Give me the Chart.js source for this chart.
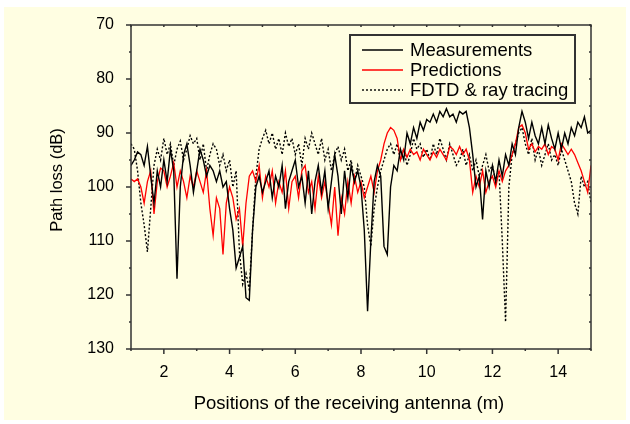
<!DOCTYPE html>
<html>
<head>
<meta charset="utf-8">
<script src="https://cdn.jsdelivr.net/npm/chart.js@4.4.0/dist/chart.umd.min.js"></script>
<style>
  html, body { margin: 0; padding: 0; background: #fff; }
  canvas { display: block; }
</style>
</head>
<body>
<canvas id="chart" width="630" height="424"></canvas>
<script>
// receiver positions (m), one sample every 10 cm
const positions = [
  1.0, 1.1, 1.2, 1.3, 1.4, 1.5, 1.6, 1.7, 1.8, 1.9,
  2.0, 2.1, 2.2, 2.3, 2.4, 2.5, 2.6, 2.7, 2.8, 2.9,
  3.0, 3.1, 3.2, 3.3, 3.4, 3.5, 3.6, 3.7, 3.8, 3.9,
  4.0, 4.1, 4.2, 4.3, 4.4, 4.5, 4.6, 4.7, 4.8, 4.9,
  5.0, 5.1, 5.2, 5.3, 5.4, 5.5, 5.6, 5.7, 5.8, 5.9,
  6.0, 6.1, 6.2, 6.3, 6.4, 6.5, 6.6, 6.7, 6.8, 6.9,
  7.0, 7.1, 7.2, 7.3, 7.4, 7.5, 7.6, 7.7, 7.8, 7.9,
  8.0, 8.1, 8.2, 8.3, 8.4, 8.5, 8.6, 8.7, 8.8, 8.9,
  9.0, 9.1, 9.2, 9.3, 9.4, 9.5, 9.6, 9.7, 9.8, 9.9,
  10.0, 10.1, 10.2, 10.3, 10.4, 10.5, 10.6, 10.7, 10.8, 10.9,
  11.0, 11.1, 11.2, 11.3, 11.4, 11.5, 11.6, 11.7, 11.8, 11.9,
  12.0, 12.1, 12.2, 12.3, 12.4, 12.5, 12.6, 12.7, 12.8, 12.9,
  13.0, 13.1, 13.2, 13.3, 13.4, 13.5, 13.6, 13.7, 13.8, 13.9,
  14.0, 14.1, 14.2, 14.3, 14.4, 14.5, 14.6, 14.7, 14.8, 14.9,
  15.0
];

// labelled ticks
const xTicks = [2, 4, 6, 8, 10, 12, 14];
const yTicks = [70, 80, 90, 100, 110, 120, 130];

// path loss in dB
const measured = [
  96, 95, 93.5, 94, 96, 92.5, 98, 103, 97, 100,
  95, 99, 93, 97, 117, 100, 94, 92, 96, 101,
  97, 93, 95, 98, 96, 97, 99, 97, 100, 99,
  104, 108, 115, 113, 111, 120.5, 121, 108, 100, 98,
  101, 99, 97, 102, 98, 100, 96, 104, 99, 97,
  95, 100, 98, 103, 97, 105, 99, 96, 101, 97,
  104, 99, 94, 98, 105, 97, 102, 96, 99, 97,
  100, 108, 123, 110, 99, 96, 98, 111, 112.5, 100,
  96, 97, 93, 95, 90, 92, 89, 91, 88, 89.5,
  87.5, 88, 86.5, 88, 86, 87, 85.5, 87, 86.5, 88,
  86, 86.5, 86, 89, 94, 100, 98, 106, 97, 100,
  96, 99, 95, 98, 94, 96, 92, 94, 89, 86,
  88, 91, 88, 90.5, 92, 89, 92, 88.5, 91, 93,
  90, 93, 90, 92, 89, 90.5, 88, 89, 87, 90,
  89.5
];

const predicted = [
  98.5, 99, 98.5, 100, 103, 99, 97, 105, 99, 96.5,
  97, 100, 98, 95.5, 100, 97, 99, 102, 98, 100,
  97, 99, 101, 97, 104, 109, 102, 104, 112.5, 103,
  100, 102, 106, 104, 111, 103, 98, 97, 99, 96,
  102, 98, 100, 97, 103, 99, 101, 97, 104, 99,
  98, 102, 97, 96, 101, 99, 104, 98, 102, 99,
  103, 107, 100, 109, 102, 105, 99, 103, 98, 101,
  99, 102, 100, 98, 101, 97, 95, 92, 90, 89,
  89.5, 91, 95, 93, 94.5, 93, 94, 93.5, 95, 93,
  94, 95, 93.5, 94.5, 93, 94, 95, 92.5, 93, 94,
  92.5, 94, 93, 95, 101, 98, 100, 97, 101, 99,
  98, 100, 97, 99, 97, 96, 94, 92, 89, 88.5,
  90, 93, 92, 93.5, 92.5, 93, 92, 94, 92.5, 93,
  95, 92, 93, 94, 93, 94, 95.5, 97, 99, 101,
  96
];

const fdtd = [
  92, 93, 97, 103, 107, 112, 104, 96, 93, 95,
  91, 94, 92, 96, 93, 91.5, 95, 93, 90.5, 92,
  91, 95, 92, 97, 94, 92, 93, 96, 94, 97,
  95, 100, 97, 112, 118, 116, 119, 108, 98, 93,
  91, 89.5, 92, 90, 93, 91, 94, 90, 92.5, 91,
  94, 92, 96, 91, 93, 90, 92, 94, 91, 95,
  93, 97, 94, 92.5, 95, 93, 97, 95, 99, 96,
  98, 100, 107, 111, 104, 100, 97, 95, 93, 92,
  94, 92, 95, 93, 96, 94, 91, 93, 92, 94.5,
  93, 95, 92, 94, 91, 93, 95, 92, 94, 96,
  95, 93, 96, 94, 97, 95, 98, 96, 94, 97,
  96, 99, 97, 110, 125, 100, 94, 92, 90, 89,
  92, 94, 91, 95, 93, 96, 94, 92, 95, 94,
  96, 93, 95, 97, 99, 103, 105, 98, 100, 99,
  103
];

const FONT = "'Liberation Sans', Arial, sans-serif";
const BG = '#fffee2';
const AXIS = '#333';

function toPoints(values) {
  return values.map((v, i) => ({ x: positions[i], y: v }));
}

// paper background with thin white margin
const bgPlugin = {
  id: 'paper',
  beforeDraw(chart) {
    const ctx = chart.ctx;
    ctx.save();
    ctx.fillStyle = '#fff';
    ctx.fillRect(0, 0, chart.width, chart.height);
    ctx.fillStyle = BG;
    ctx.fillRect(4, 7, chart.width - 8, chart.height - 11);
    ctx.restore();
  }
};

// box round the plot, with major / minor tick marks
const framePlugin = {
  id: 'frame',
  afterDatasetsDraw(chart) {
    const { ctx, chartArea: a, scales: { x, y } } = chart;
    ctx.save();
    ctx.strokeStyle = AXIS;
    ctx.lineWidth = 1.5;
    ctx.strokeRect(a.left, a.top, a.right - a.left, a.bottom - a.top);
    ctx.beginPath();
    for (let v = 1; v <= 15; v++) {
      const px = x.getPixelForValue(v);
      const len = v % 2 === 0 ? 5 : 2;
      ctx.moveTo(px, a.bottom);
      ctx.lineTo(px, a.bottom + len);
      ctx.moveTo(px, a.top);
      ctx.lineTo(px, a.top + 2);
    }
    for (let v = 70; v <= 130; v += 5) {
      const py = y.getPixelForValue(v);
      const len = v % 10 === 0 ? 5 : 2;
      ctx.moveTo(a.left, py);
      ctx.lineTo(a.left - len, py);
      ctx.moveTo(a.right, py);
      ctx.lineTo(a.right - 2, py);
    }
    ctx.stroke();
    ctx.restore();
  }
};

// axis titles and the boxed legend in the upper right
const labelPlugin = {
  id: 'labels',
  afterDraw(chart) {
    const ctx = chart.ctx;
    ctx.save();
    ctx.fillStyle = '#000';
    ctx.textAlign = 'center';
    ctx.textBaseline = 'alphabetic';
    ctx.font = '18.5px ' + FONT;
    ctx.fillText('Positions of the receiving antenna (m)', 349, 409);
    ctx.save();
    ctx.translate(62, 180);
    ctx.rotate(-Math.PI / 2);
    ctx.font = '16.5px ' + FONT;
    ctx.fillText('Path loss (dB)', 0, 0);
    ctx.restore();

    const box = { left: 350, top: 35, right: 575, bottom: 103 };
    ctx.strokeStyle = AXIS;
    ctx.lineWidth = 2;
    ctx.strokeRect(box.left, box.top, box.right - box.left, box.bottom - box.top);
    ctx.font = '18.5px ' + FONT;
    ctx.textAlign = 'left';
    ctx.textBaseline = 'middle';
    chart.data.datasets.forEach((ds, i) => {
      const cy = 50 + i * 20;
      ctx.beginPath();
      ctx.strokeStyle = ds.borderColor;
      ctx.lineWidth = ds.borderWidth;
      ctx.setLineDash(ds.borderDash || []);
      ctx.moveTo(362, cy);
      ctx.lineTo(403, cy);
      ctx.stroke();
      ctx.setLineDash([]);
      ctx.fillText(ds.label, 410, cy + 1);
    });
    ctx.restore();
  }
};

const tickFont = { family: FONT, size: 16 };

new Chart(document.getElementById('chart'), {
  type: 'line',
  data: {
    datasets: [
      { label: 'Measurements', data: toPoints(measured), borderColor: '#000', borderWidth: 1.4 },
      { label: 'Predictions', data: toPoints(predicted), borderColor: '#f00', borderWidth: 1.3 },
      { label: 'FDTD & ray tracing', data: toPoints(fdtd), borderColor: '#000', borderWidth: 1.4, borderDash: [2, 2] }
    ]
  },
  options: {
    responsive: false,
    animation: false,
    devicePixelRatio: 1,
    elements: { point: { radius: 0 }, line: { tension: 0 } },
    layout: { padding: { left: 0, top: 25, right: 39, bottom: 0 } },
    plugins: { legend: { display: false }, tooltip: { enabled: false } },
    scales: {
      x: {
        type: 'linear',
        min: 1,
        max: 15,
        afterBuildTicks: (s) => { s.ticks = xTicks.map(v => ({ value: v })); },
        afterFit: (s) => { s.height = 75; },
        grid: { display: false },
        border: { display: false },
        ticks: { padding: 6, color: '#000', font: tickFont, maxRotation: 0 }
      },
      y: {
        min: 70,
        max: 130,
        reverse: true,
        afterBuildTicks: (s) => { s.ticks = yTicks.map(v => ({ value: v })); },
        afterFit: (s) => { s.width = 131; },
        grid: { display: false },
        border: { display: false },
        ticks: { padding: 9, color: '#000', font: tickFont }
      }
    }
  },
  plugins: [bgPlugin, framePlugin, labelPlugin]
});
</script>
</body>
</html>
